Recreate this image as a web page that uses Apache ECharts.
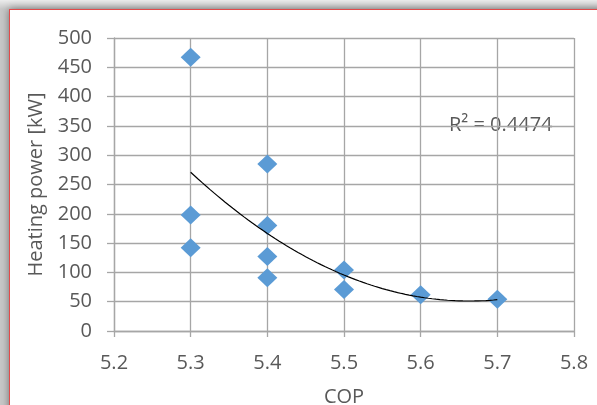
<!DOCTYPE html>
<html>
<head>
<meta charset="utf-8">
<script src="https://cdn.jsdelivr.net/npm/echarts@6/dist/echarts.min.js"></script>
<style>
  html, body { margin: 0; padding: 0; background: #d9d9d9; }
  body { width: 597px; height: 405px; position: relative; overflow: hidden;
         background: linear-gradient(#ececec, #c8c8c8 9px); }
  #frame { position: absolute; left: 9px; top: 9px; width: 640px; height: 440px;
           background: #fff; border: 1px solid #e24a4a;
           box-shadow: 0 0 8px rgba(0,0,0,0.45); }
  #chart { position: absolute; left: 0; top: 0; width: 597px; height: 405px; }
</style>
</head>
<body>
<div id="frame"></div>
<div id="chart"></div>
<script>
// Measured COP and heating power for each unit
const cop = [5.3, 5.3, 5.3, 5.4, 5.4, 5.4, 5.4, 5.5, 5.5, 5.6, 5.7];
const heatingPower = [467, 198, 142, 285, 180, 127, 91, 104, 71, 62, 54];
const xTicks = { min: 5.2, max: 5.8, step: 0.1 };
const yTicks = { min: 0, max: 500, step: 50 };
const r2Text = 'R\u00b2 = 0.4474';

// Second-order least-squares trend of power against COP
function quadFit(xs, ys) {
  const x0 = xs.reduce((a, b) => a + b, 0) / xs.length;
  let s = [0, 0, 0, 0, 0], t = [0, 0, 0];
  xs.forEach((x, i) => {
    const u = x - x0;
    let p = 1;
    for (let k = 0; k < 5; k++) { s[k] += p; if (k < 3) t[k] += p * ys[i]; p *= u; }
  });
  const M = [[s[0], s[1], s[2], t[0]], [s[1], s[2], s[3], t[1]], [s[2], s[3], s[4], t[2]]];
  for (let i = 0; i < 3; i++) {
    for (let j = i + 1; j < 3; j++) {
      const f = M[j][i] / M[i][i];
      for (let k = i; k < 4; k++) M[j][k] -= f * M[i][k];
    }
  }
  const c = [0, 0, 0];
  for (let i = 2; i >= 0; i--) {
    let v = M[i][3];
    for (let k = i + 1; k < 3; k++) v -= M[i][k] * c[k];
    c[i] = v / M[i][i];
  }
  return x => { const u = x - x0; return c[0] + c[1] * u + c[2] * u * u; };
}

const trend = quadFit(cop, heatingPower);
const xLo = Math.min(...cop), xHi = Math.max(...cop);
const trendLine = [];
for (let i = 0; i <= 80; i++) {
  const x = xLo + (xHi - xLo) * i / 80;
  trendLine.push([x, trend(x)]);
}

const font = '"Open Sans", "Noto Sans", sans-serif';
const fontSize = 20;
const textColor = '#595959';
const gridColor = '#a6a6a6';

const chart = echarts.init(document.getElementById('chart'), null, { renderer: 'canvas' });
chart.setOption({
  backgroundColor: 'transparent',
  animation: false,
  textStyle: { fontFamily: font },
  grid: { left: 114, right: 23, top: 38, bottom: 74, containLabel: false, outerBoundsMode: 'none' },
  xAxis: {
    type: 'value', min: xTicks.min, max: xTicks.max, interval: xTicks.step,
    name: 'COP', nameLocation: 'middle', nameGap: 56,
    nameTextStyle: { fontFamily: font, fontSize: fontSize, color: textColor },
    axisLine: { show: true, lineStyle: { color: gridColor, width: 1.3 } },
    axisTick: { show: true, length: 6, lineStyle: { color: gridColor, width: 1.3 } },
    axisLabel: { fontFamily: font, fontSize: fontSize, color: textColor, margin: 22,
                 formatter: v => v.toFixed(1) },
    splitLine: { show: true, lineStyle: { color: gridColor, width: 1.3 } }
  },
  yAxis: {
    type: 'value', min: yTicks.min, max: yTicks.max, interval: yTicks.step,
    name: 'Heating power [kW]', nameLocation: 'middle', nameGap: 49, nameRotate: 90,
    nameTextStyle: { fontFamily: font, fontSize: fontSize, color: textColor },
    axisLine: { show: true, lineStyle: { color: gridColor, width: 1.3 } },
    axisTick: { show: true, length: 7, lineStyle: { color: gridColor, width: 1.3 } },
    axisLabel: { fontFamily: font, fontSize: fontSize, color: textColor, margin: 22 },
    splitLine: { show: true, lineStyle: { color: gridColor, width: 1.3 } }
  },
  series: [
    {
      type: 'scatter', symbol: 'diamond', symbolSize: [20, 19],
      itemStyle: { color: '#5b9bd5', opacity: 1 },
      data: cop.map((x, i) => [x, heatingPower[i]]), z: 2
    },
    {
      type: 'line', data: trendLine, showSymbol: false, smooth: false,
      lineStyle: { color: '#000', width: 1.2 }, z: 3
    }
  ],
  graphic: [{
    type: 'text', left: 449, top: 115,
    style: { text: r2Text, font: fontSize + 'px ' + font, fill: textColor }
  }]
});
</script>
</body>
</html>
